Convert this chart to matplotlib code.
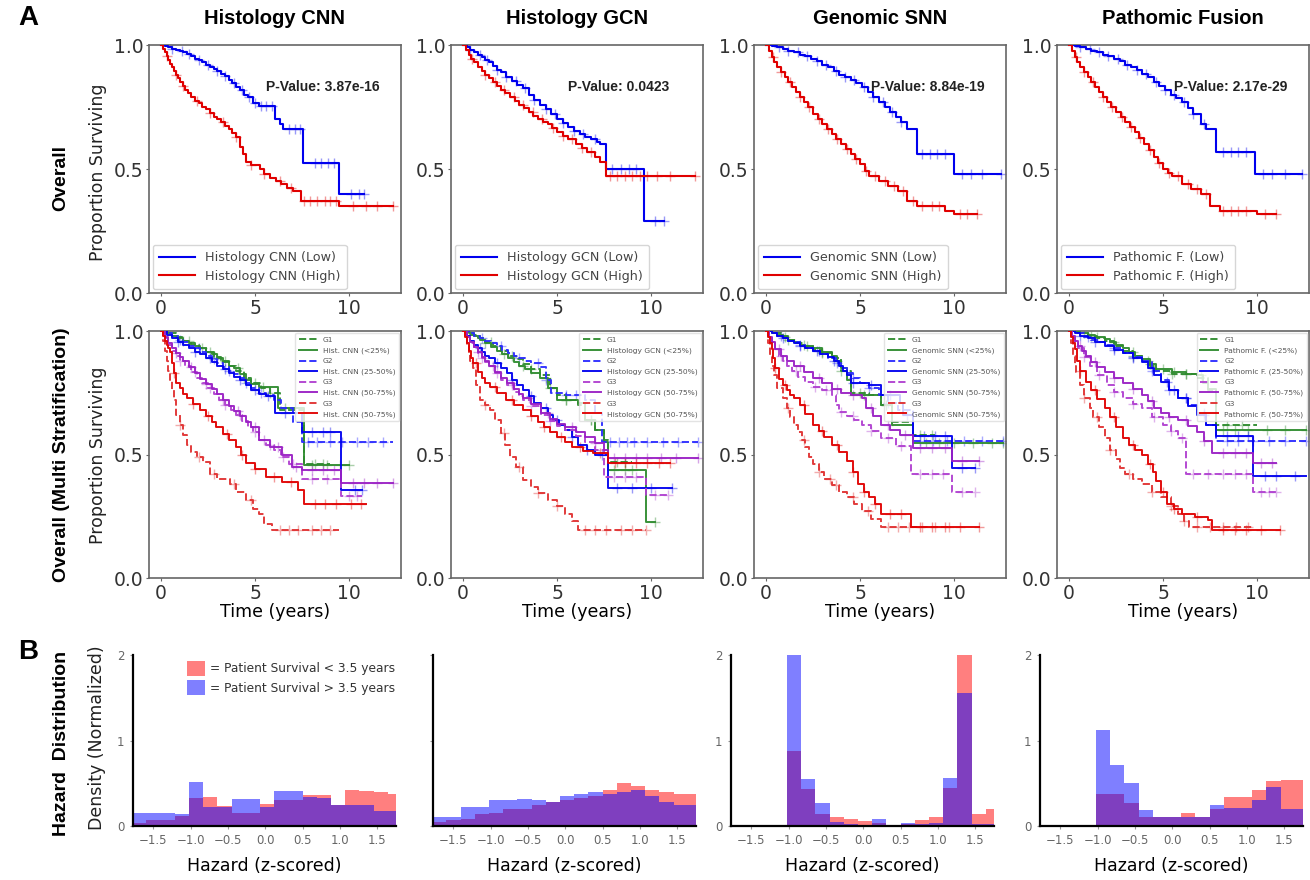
import numpy as np
import matplotlib
matplotlib.use("Agg")
import matplotlib.pyplot as plt
from matplotlib.patches import Patch

# ---------------- DATA ----------------
MODELS = ["Histology CNN", "Histology GCN", "Genomic SNN", "Pathomic Fusion"]
SHORT_TOP = ["Histology CNN", "Histology GCN", "Genomic SNN", "Pathomic F."]
SHORT_MID = ["Hist. CNN", "Histology GCN", "Genomic SNN", "Pathomic F."]
PVALUES = ["3.87e-16", "0.0423", "8.84e-19", "2.17e-29"]
MID_SUFFIX = ["G1", "(<25%)", "G2", "(25-50%)", "G3", "(50-75%)", "G3", "(50-75%)"]

# ---- Top row (Low / High): step points (time, survival) and censor times ----
CNN_LOW_T = [0, 0.2, 0.4, 0.6, 0.8, 1.0, 1.2, 1.4, 1.6, 1.8, 2.0, 2.2, 2.4, 2.6, 2.8, 3.0, 3.2, 3.4, 3.6, 3.8, 4.0, 4.2, 4.4, 4.6, 4.9, 5.2, 6.05, 6.3, 6.5, 7.57, 9.47, 10.8]
CNN_LOW_S = [1.0, 0.995, 0.99, 0.985, 0.98, 0.975, 0.97, 0.965, 0.955, 0.945, 0.94, 0.93, 0.92, 0.91, 0.905, 0.895, 0.885, 0.875, 0.86, 0.845, 0.83, 0.82, 0.80, 0.79, 0.765, 0.755, 0.70, 0.68, 0.66, 0.525, 0.40, 0.40]
CNN_LOW_C = [0.6, 1.1, 1.5, 2.0, 2.5, 3.0, 3.4, 3.9, 4.3, 4.7, 5.0, 5.3, 5.6, 5.9, 6.8, 7.1, 7.4, 8.2, 8.5, 8.9, 9.2, 10.1, 10.5, 10.8]
CNN_HIGH_T = [0, 0.1, 0.2, 0.3, 0.4, 0.5, 0.6, 0.7, 0.8, 0.9, 1.0, 1.15, 1.3, 1.45, 1.6, 1.8, 2.0, 2.2, 2.4, 2.6, 2.8, 3.0, 3.2, 3.4, 3.6, 3.8, 4.0, 4.18, 4.35, 4.53, 4.8, 5.24, 5.5, 5.8, 6.12, 6.4, 6.7, 7.0, 7.44, 9.47, 12.3]
CNN_HIGH_S = [1.0, 0.985, 0.97, 0.955, 0.94, 0.925, 0.91, 0.895, 0.88, 0.865, 0.85, 0.835, 0.82, 0.805, 0.79, 0.775, 0.765, 0.75, 0.74, 0.725, 0.71, 0.70, 0.69, 0.675, 0.66, 0.645, 0.63, 0.59, 0.56, 0.53, 0.515, 0.50, 0.48, 0.465, 0.45, 0.44, 0.425, 0.41, 0.37, 0.35, 0.35]
CNN_HIGH_C = [0.3, 0.8, 1.2, 1.9, 2.6, 3.3, 4.0, 4.8, 5.5, 6.3, 6.9, 7.6, 7.9, 8.3, 8.7, 9.0, 9.3, 10.2, 10.9, 11.5, 12.3]

GCN_LOW_T = [0, 0.2, 0.4, 0.6, 0.8, 1.0, 1.2, 1.4, 1.6, 1.8, 2.0, 2.3, 2.6, 2.9, 3.2, 3.5, 3.8, 4.1, 4.4, 4.7, 5.0, 5.3, 5.6, 5.9, 6.2, 6.5, 6.8, 7.1, 7.3, 7.6, 9.6, 10.7]
GCN_LOW_S = [1.0, 0.99, 0.98, 0.97, 0.96, 0.95, 0.94, 0.93, 0.915, 0.90, 0.89, 0.87, 0.855, 0.84, 0.825, 0.80, 0.78, 0.76, 0.74, 0.72, 0.70, 0.685, 0.67, 0.655, 0.64, 0.63, 0.62, 0.61, 0.60, 0.50, 0.29, 0.29]
GCN_LOW_C = [0.4, 0.9, 1.3, 1.8, 2.3, 2.8, 3.3, 3.8, 4.4, 4.9, 5.3, 5.9, 6.4, 7.0, 7.9, 8.4, 8.8, 9.2, 10.2, 10.7]
GCN_HIGH_T = [0, 0.15, 0.3, 0.45, 0.6, 0.8, 1.0, 1.2, 1.4, 1.6, 1.8, 2.0, 2.25, 2.5, 2.75, 3.0, 3.25, 3.5, 3.75, 4.0, 4.25, 4.5, 4.75, 5.0, 5.3, 5.6, 6.0, 6.3, 6.6, 7.0, 7.3, 7.6, 12.3]
GCN_HIGH_S = [1.0, 0.98, 0.96, 0.945, 0.93, 0.91, 0.895, 0.88, 0.865, 0.85, 0.835, 0.82, 0.805, 0.79, 0.775, 0.76, 0.745, 0.73, 0.715, 0.70, 0.69, 0.68, 0.665, 0.65, 0.635, 0.62, 0.60, 0.585, 0.57, 0.55, 0.53, 0.47, 0.47]
GCN_HIGH_C = [0.5, 1.2, 1.7, 2.2, 2.7, 3.2, 3.7, 4.2, 4.8, 5.3, 5.8, 6.3, 6.8, 7.8, 8.2, 8.6, 9.0, 9.4, 9.8, 10.3, 11.0, 12.3]

SNN_LOW_T = [0, 0.3, 0.6, 0.9, 1.2, 1.5, 1.8, 2.1, 2.4, 2.7, 3.0, 3.3, 3.6, 3.9, 4.2, 4.5, 4.8, 5.1, 5.4, 5.7, 6.0, 6.3, 6.6, 6.9, 7.2, 7.5, 8.0, 10.0, 12.5]
SNN_LOW_S = [1.0, 0.995, 0.99, 0.985, 0.975, 0.97, 0.96, 0.955, 0.945, 0.935, 0.92, 0.91, 0.895, 0.88, 0.87, 0.86, 0.845, 0.83, 0.81, 0.79, 0.77, 0.75, 0.73, 0.71, 0.69, 0.66, 0.56, 0.48, 0.48]
SNN_LOW_C = [0.7, 1.2, 1.7, 2.2, 2.7, 3.2, 3.7, 4.2, 4.7, 5.2, 5.7, 6.2, 6.7, 7.2, 8.3, 8.7, 9.1, 9.5, 10.4, 10.9, 11.5, 12.5]
SNN_HIGH_T = [0, 0.15, 0.3, 0.45, 0.6, 0.8, 1.0, 1.2, 1.4, 1.6, 1.8, 2.0, 2.25, 2.5, 2.75, 3.0, 3.25, 3.5, 3.75, 4.0, 4.25, 4.5, 4.75, 5.0, 5.25, 5.5, 6.0, 6.5, 7.0, 7.5, 8.0, 9.5, 10.0, 11.2]
SNN_HIGH_S = [1.0, 0.975, 0.95, 0.93, 0.91, 0.89, 0.87, 0.85, 0.83, 0.81, 0.79, 0.77, 0.75, 0.72, 0.70, 0.68, 0.66, 0.64, 0.62, 0.60, 0.58, 0.56, 0.54, 0.52, 0.49, 0.47, 0.45, 0.43, 0.41, 0.37, 0.35, 0.33, 0.32, 0.32]
SNN_HIGH_C = [0.4, 0.8, 1.3, 1.8, 2.3, 2.8, 3.3, 3.8, 4.3, 4.8, 5.3, 5.8, 6.3, 6.8, 7.3, 7.8, 8.3, 8.8, 9.2, 10.3, 10.7, 11.2]

PF_LOW_T = [0, 0.3, 0.6, 0.9, 1.2, 1.5, 1.8, 2.1, 2.4, 2.7, 3.0, 3.3, 3.6, 3.9, 4.2, 4.5, 4.8, 5.1, 5.4, 5.7, 6.0, 6.3, 6.6, 7.0, 7.3, 7.8, 9.9, 12.4]
PF_LOW_S = [1.0, 0.995, 0.99, 0.985, 0.975, 0.97, 0.96, 0.955, 0.945, 0.935, 0.92, 0.91, 0.90, 0.885, 0.87, 0.85, 0.835, 0.82, 0.80, 0.785, 0.77, 0.745, 0.72, 0.68, 0.66, 0.57, 0.48, 0.48]
PF_LOW_C = [0.6, 1.1, 1.6, 2.1, 2.6, 3.1, 3.6, 4.1, 4.6, 5.1, 5.6, 6.1, 6.6, 7.2, 8.2, 8.6, 9.0, 9.4, 10.3, 10.8, 11.5, 12.4]
PF_HIGH_T = [0, 0.15, 0.3, 0.45, 0.6, 0.8, 1.0, 1.2, 1.4, 1.6, 1.8, 2.0, 2.25, 2.5, 2.75, 3.0, 3.25, 3.5, 3.75, 4.0, 4.25, 4.5, 4.75, 5.0, 5.25, 5.5, 6.0, 6.5, 7.0, 7.5, 8.0, 10.0, 11.0]
PF_HIGH_S = [1.0, 0.975, 0.95, 0.93, 0.91, 0.89, 0.87, 0.85, 0.83, 0.81, 0.79, 0.77, 0.75, 0.73, 0.71, 0.69, 0.67, 0.65, 0.625, 0.60, 0.575, 0.55, 0.525, 0.50, 0.485, 0.47, 0.44, 0.42, 0.40, 0.35, 0.33, 0.32, 0.32]
PF_HIGH_C = [0.4, 0.8, 1.3, 1.8, 2.3, 2.8, 3.3, 3.8, 4.3, 4.8, 5.3, 5.8, 6.3, 6.8, 7.3, 8.2, 8.6, 9.0, 9.4, 10.4, 11.0]

# ---- Middle row: 8 curves per panel (G1, <25%, G2, 25-50%, G3, 50-75%, G3, 50-75%) as (time, survival) ----
CNN_G1 = [(0, 1.0), (0.4, 0.99), (0.8, 0.975), (1.2, 0.96), (1.6, 0.945), (2.0, 0.93), (2.4, 0.915), (2.8, 0.895), (3.2, 0.88), (3.6, 0.86), (4.0, 0.84), (4.4, 0.81), (4.8, 0.79), (5.3, 0.77), (5.8, 0.75), (6.3, 0.68), (7.6, 0.46), (9.0, 0.46)]
CNN_Q1 = [(0, 1.0), (0.3, 0.99), (0.6, 0.98), (0.9, 0.97), (1.2, 0.96), (1.5, 0.95), (1.8, 0.94), (2.1, 0.93), (2.4, 0.915), (2.7, 0.905), (3.0, 0.89), (3.3, 0.875), (3.6, 0.86), (3.9, 0.85), (4.2, 0.825), (4.5, 0.80), (4.8, 0.785), (5.2, 0.775), (6.2, 0.69), (7.6, 0.457), (10.0, 0.457)]
CNN_G2 = [(0, 1.0), (0.3, 0.99), (0.6, 0.98), (0.9, 0.965), (1.2, 0.955), (1.5, 0.94), (1.8, 0.93), (2.1, 0.915), (2.4, 0.90), (2.7, 0.885), (3.0, 0.87), (3.3, 0.855), (3.6, 0.84), (3.9, 0.825), (4.2, 0.81), (4.5, 0.79), (4.8, 0.77), (5.2, 0.75), (5.6, 0.74), (6.0, 0.72), (6.4, 0.69), (7.0, 0.63), (7.5, 0.552), (12.3, 0.552)]
CNN_Q2 = [(0, 1.0), (0.3, 0.985), (0.6, 0.97), (0.9, 0.955), (1.2, 0.945), (1.5, 0.93), (1.8, 0.915), (2.1, 0.905), (2.4, 0.89), (2.7, 0.875), (3.0, 0.86), (3.3, 0.845), (3.6, 0.83), (3.9, 0.815), (4.2, 0.80), (4.5, 0.78), (4.8, 0.76), (5.2, 0.745), (5.6, 0.735), (6.05, 0.67), (7.5, 0.592), (9.56, 0.356), (10.7, 0.356)]
CNN_G3 = [(0, 1.0), (0.2, 0.97), (0.4, 0.945), (0.6, 0.92), (0.8, 0.90), (1.0, 0.88), (1.3, 0.86), (1.6, 0.835), (1.9, 0.81), (2.2, 0.79), (2.5, 0.77), (2.8, 0.745), (3.1, 0.72), (3.4, 0.70), (3.7, 0.68), (4.0, 0.66), (4.3, 0.635), (4.6, 0.61), (4.9, 0.59), (5.2, 0.56), (5.6, 0.54), (6.0, 0.52), (6.4, 0.49), (6.8, 0.46), (7.5, 0.40), (9.56, 0.33), (10.7, 0.33)]
CNN_Q3 = [(0, 1.0), (0.2, 0.975), (0.4, 0.95), (0.6, 0.93), (0.8, 0.91), (1.0, 0.895), (1.2, 0.88), (1.5, 0.855), (1.8, 0.83), (2.1, 0.805), (2.4, 0.785), (2.7, 0.765), (3.0, 0.745), (3.3, 0.72), (3.6, 0.695), (3.9, 0.675), (4.2, 0.655), (4.5, 0.63), (4.8, 0.61), (5.23, 0.558), (5.8, 0.53), (6.45, 0.498), (6.98, 0.45), (7.5, 0.437), (9.56, 0.383), (12.3, 0.383)]
CNN_G4 = [(0, 1.0), (0.1, 0.96), (0.2, 0.92), (0.3, 0.88), (0.4, 0.84), (0.5, 0.80), (0.6, 0.76), (0.7, 0.72), (0.83, 0.66), (1.0, 0.62), (1.2, 0.58), (1.4, 0.54), (1.6, 0.51), (1.9, 0.49), (2.24, 0.47), (2.59, 0.42), (3.0, 0.40), (3.65, 0.38), (4.0, 0.35), (4.5, 0.316), (4.9, 0.28), (5.2, 0.26), (5.5, 0.22), (5.9, 0.194), (9.47, 0.194)]
CNN_Q4 = [(0, 1.0), (0.1, 0.98), (0.2, 0.96), (0.3, 0.945), (0.4, 0.93), (0.5, 0.915), (0.6, 0.87), (0.7, 0.83), (0.83, 0.79), (1.0, 0.77), (1.2, 0.745), (1.4, 0.73), (1.7, 0.705), (2.06, 0.68), (2.4, 0.655), (2.7, 0.63), (2.95, 0.61), (3.3, 0.585), (3.6, 0.56), (4.0, 0.53), (4.25, 0.50), (4.5, 0.464), (5.0, 0.44), (5.6, 0.41), (6.45, 0.39), (7.3, 0.356), (7.6, 0.30), (10.9, 0.30)]

GCN_G1 = [(0, 1.0), (0.4, 0.985), (0.8, 0.97), (1.2, 0.955), (1.6, 0.94), (2.0, 0.92), (2.4, 0.90), (2.8, 0.885), (3.2, 0.865), (3.6, 0.845), (4.1, 0.82), (4.6, 0.77), (5.0, 0.74), (5.5, 0.72), (6.1, 0.70), (6.5, 0.64), (7.0, 0.60), (7.5, 0.56), (7.7, 0.47), (9.0, 0.47)]
GCN_Q1 = [(0, 1.0), (0.3, 0.99), (0.6, 0.98), (0.9, 0.965), (1.2, 0.95), (1.5, 0.935), (1.8, 0.92), (2.1, 0.905), (2.4, 0.89), (2.7, 0.875), (3.0, 0.86), (3.3, 0.845), (3.6, 0.83), (4.1, 0.81), (4.5, 0.77), (5.0, 0.72), (6.1, 0.71), (6.5, 0.64), (7.0, 0.60), (7.5, 0.55), (7.7, 0.437), (9.7, 0.228), (10.2, 0.228)]
GCN_G2 = [(0, 1.0), (0.3, 0.99), (0.6, 0.98), (0.9, 0.97), (1.2, 0.96), (1.5, 0.95), (1.8, 0.94), (2.1, 0.925), (2.4, 0.91), (2.7, 0.90), (3.0, 0.89), (3.3, 0.88), (3.6, 0.87), (4.14, 0.855), (4.4, 0.80), (4.68, 0.748), (5.5, 0.74), (6.47, 0.72), (7.0, 0.67), (7.4, 0.552), (12.5, 0.552)]
GCN_Q2 = [(0, 1.0), (0.2, 0.98), (0.4, 0.96), (0.6, 0.945), (0.8, 0.93), (1.0, 0.915), (1.2, 0.90), (1.4, 0.89), (1.7, 0.87), (2.0, 0.85), (2.35, 0.83), (2.6, 0.80), (2.9, 0.78), (3.2, 0.76), (3.5, 0.735), (3.8, 0.71), (4.14, 0.69), (4.5, 0.66), (4.8, 0.64), (5.1, 0.62), (5.4, 0.60), (5.8, 0.57), (6.1, 0.54), (6.6, 0.52), (7.0, 0.50), (7.7, 0.363), (11.1, 0.363)]
GCN_G3 = [(0, 1.0), (0.2, 0.975), (0.4, 0.95), (0.6, 0.93), (0.8, 0.91), (1.0, 0.89), (1.2, 0.875), (1.4, 0.86), (1.7, 0.83), (2.0, 0.80), (2.35, 0.78), (2.7, 0.755), (3.0, 0.735), (3.2, 0.72), (3.6, 0.695), (4.14, 0.66), (4.6, 0.635), (5.0, 0.615), (5.4, 0.60), (6.0, 0.575), (6.5, 0.55), (7.0, 0.52), (7.5, 0.41), (9.7, 0.336), (10.95, 0.336)]
GCN_Q3 = [(0, 1.0), (0.2, 0.975), (0.4, 0.955), (0.6, 0.935), (0.8, 0.915), (1.0, 0.895), (1.2, 0.88), (1.4, 0.86), (1.7, 0.835), (2.0, 0.81), (2.35, 0.79), (2.7, 0.765), (3.0, 0.745), (3.2, 0.73), (3.6, 0.705), (4.14, 0.67), (4.6, 0.645), (5.0, 0.625), (5.4, 0.61), (6.0, 0.59), (6.5, 0.57), (7.0, 0.545), (7.5, 0.52), (7.7, 0.485), (12.5, 0.485)]
GCN_G4 = [(0, 1.0), (0.1, 0.97), (0.2, 0.94), (0.3, 0.91), (0.4, 0.88), (0.56, 0.85), (0.7, 0.78), (0.9, 0.72), (1.2, 0.70), (1.45, 0.68), (1.7, 0.64), (2.0, 0.586), (2.25, 0.54), (2.5, 0.49), (2.8, 0.45), (3.2, 0.397), (3.6, 0.37), (4.0, 0.345), (4.5, 0.316), (5.0, 0.29), (5.4, 0.26), (5.8, 0.23), (6.1, 0.194), (9.7, 0.194)]
GCN_Q4 = [(0, 1.0), (0.1, 0.975), (0.2, 0.95), (0.3, 0.92), (0.45, 0.89), (0.56, 0.87), (0.8, 0.835), (1.0, 0.81), (1.2, 0.79), (1.45, 0.775), (1.8, 0.75), (2.3, 0.72), (2.7, 0.70), (3.2, 0.68), (3.6, 0.655), (4.0, 0.63), (4.3, 0.61), (4.6, 0.59), (5.0, 0.57), (5.4, 0.55), (5.8, 0.53), (6.4, 0.515), (6.9, 0.505), (7.7, 0.465), (11.0, 0.465)]

SNN_G1 = [(0, 1.0), (0.4, 0.99), (0.8, 0.98), (1.2, 0.965), (1.6, 0.95), (2.0, 0.94), (2.5, 0.925), (3.0, 0.91), (3.5, 0.89), (4.0, 0.84), (4.5, 0.75), (5.5, 0.74), (6.1, 0.70), (6.7, 0.63), (7.8, 0.58), (9.0, 0.58)]
SNN_Q1 = [(0, 1.0), (0.3, 0.99), (0.6, 0.985), (0.9, 0.975), (1.2, 0.965), (1.5, 0.955), (1.8, 0.945), (2.1, 0.94), (2.5, 0.93), (3.0, 0.915), (3.5, 0.90), (3.8, 0.88), (4.0, 0.85), (4.3, 0.80), (4.5, 0.74), (6.1, 0.70), (6.7, 0.62), (7.8, 0.547), (12.6, 0.547)]
SNN_G2 = [(0, 1.0), (0.3, 0.99), (0.6, 0.98), (0.9, 0.97), (1.2, 0.96), (1.5, 0.955), (1.8, 0.945), (2.1, 0.93), (2.5, 0.92), (2.9, 0.905), (3.3, 0.89), (3.7, 0.87), (4.0, 0.85), (4.3, 0.83), (4.6, 0.81), (5.0, 0.79), (5.5, 0.77), (6.0, 0.74), (6.5, 0.71), (7.0, 0.68), (7.8, 0.555), (12.6, 0.555)]
SNN_Q2 = [(0, 1.0), (0.3, 0.99), (0.6, 0.98), (0.9, 0.97), (1.2, 0.96), (1.5, 0.953), (1.8, 0.94), (2.1, 0.93), (2.5, 0.92), (2.9, 0.905), (3.3, 0.895), (3.6, 0.88), (3.9, 0.86), (4.1, 0.84), (4.3, 0.82), (4.5, 0.79), (5.5, 0.78), (6.1, 0.74), (7.1, 0.71), (7.3, 0.66), (7.8, 0.573), (9.9, 0.447), (11.1, 0.447)]
SNN_G3 = [(0, 1.0), (0.15, 0.97), (0.3, 0.95), (0.5, 0.925), (0.7, 0.90), (0.9, 0.88), (1.1, 0.86), (1.4, 0.84), (1.7, 0.815), (2.1, 0.793), (2.5, 0.775), (3.0, 0.76), (3.5, 0.74), (3.7, 0.70), (3.9, 0.673), (4.3, 0.655), (4.7, 0.64), (5.1, 0.62), (5.6, 0.595), (6.1, 0.567), (6.9, 0.533), (7.7, 0.42), (9.9, 0.347), (11.1, 0.347)]
SNN_Q3 = [(0, 1.0), (0.15, 0.975), (0.3, 0.955), (0.5, 0.927), (0.8, 0.90), (1.1, 0.88), (1.5, 0.86), (2.0, 0.835), (2.5, 0.81), (3.0, 0.79), (3.5, 0.767), (4.0, 0.75), (4.5, 0.74), (5.1, 0.727), (5.3, 0.687), (5.7, 0.655), (6.1, 0.62), (6.6, 0.60), (7.1, 0.58), (7.8, 0.527), (9.9, 0.473), (11.3, 0.473)]
SNN_G4 = [(0, 1.0), (0.1, 0.95), (0.2, 0.90), (0.3, 0.86), (0.45, 0.82), (0.6, 0.77), (0.9, 0.727), (1.1, 0.69), (1.3, 0.65), (1.5, 0.62), (1.7, 0.593), (1.9, 0.56), (2.1, 0.53), (2.3, 0.49), (2.5, 0.46), (2.8, 0.43), (3.1, 0.40), (3.5, 0.375), (3.9, 0.35), (4.3, 0.327), (4.7, 0.30), (5.1, 0.273), (5.6, 0.24), (6.1, 0.207), (9.7, 0.207)]
SNN_Q4 = [(0, 1.0), (0.1, 0.975), (0.2, 0.95), (0.3, 0.927), (0.4, 0.89), (0.5, 0.85), (0.7, 0.807), (0.9, 0.78), (1.1, 0.76), (1.3, 0.74), (1.5, 0.727), (1.8, 0.70), (2.1, 0.665), (2.5, 0.62), (2.8, 0.595), (3.1, 0.57), (3.5, 0.54), (3.9, 0.51), (4.3, 0.473), (4.6, 0.43), (4.9, 0.38), (5.2, 0.35), (5.5, 0.327), (5.8, 0.30), (6.1, 0.26), (7.7, 0.207), (11.3, 0.207)]

PF_G1 = [(0, 1.0), (0.5, 0.99), (1.0, 0.98), (1.5, 0.97), (1.9, 0.96), (2.4, 0.94), (2.9, 0.92), (3.4, 0.90), (3.9, 0.88), (4.3, 0.86), (4.65, 0.84), (5.5, 0.825), (6.8, 0.81), (7.4, 0.76), (7.8, 0.62), (10.0, 0.62)]
PF_Q1 = [(0, 1.0), (0.3, 0.995), (0.6, 0.99), (1.0, 0.985), (1.4, 0.975), (1.9, 0.967), (2.2, 0.955), (2.5, 0.945), (2.9, 0.93), (3.2, 0.915), (3.5, 0.90), (3.9, 0.887), (4.3, 0.865), (4.65, 0.847), (5.5, 0.835), (6.2, 0.825), (6.8, 0.82), (7.1, 0.79), (7.4, 0.767), (7.8, 0.60), (12.6, 0.60)]
PF_G2 = [(0, 1.0), (0.4, 0.99), (0.8, 0.975), (1.2, 0.965), (1.6, 0.955), (1.9, 0.945), (2.4, 0.93), (2.9, 0.91), (3.4, 0.895), (3.9, 0.88), (4.4, 0.84), (4.9, 0.80), (5.3, 0.76), (5.8, 0.73), (6.3, 0.70), (6.8, 0.67), (7.3, 0.62), (7.8, 0.553), (12.6, 0.553)]
PF_Q2 = [(0, 1.0), (0.3, 0.99), (0.6, 0.98), (1.0, 0.97), (1.4, 0.955), (1.9, 0.94), (2.4, 0.925), (2.9, 0.91), (3.4, 0.89), (3.9, 0.873), (4.2, 0.85), (4.5, 0.82), (4.9, 0.793), (5.3, 0.76), (5.8, 0.727), (6.3, 0.695), (6.8, 0.66), (7.3, 0.62), (7.8, 0.573), (9.8, 0.413), (12.6, 0.413)]
PF_G3 = [(0, 1.0), (0.15, 0.97), (0.3, 0.95), (0.5, 0.93), (0.8, 0.895), (1.1, 0.86), (1.5, 0.82), (2.0, 0.78), (2.4, 0.755), (2.9, 0.727), (3.4, 0.705), (3.9, 0.687), (4.4, 0.65), (5.0, 0.62), (5.4, 0.595), (5.8, 0.567), (6.2, 0.42), (9.8, 0.347), (11.0, 0.347)]
PF_Q3 = [(0, 1.0), (0.15, 0.98), (0.3, 0.96), (0.5, 0.94), (0.7, 0.92), (0.9, 0.90), (1.2, 0.875), (1.5, 0.855), (1.9, 0.833), (2.4, 0.81), (2.9, 0.79), (3.4, 0.765), (3.9, 0.74), (4.2, 0.715), (4.5, 0.69), (4.9, 0.667), (5.3, 0.65), (5.8, 0.64), (6.3, 0.615), (6.8, 0.593), (7.2, 0.555), (7.6, 0.507), (9.8, 0.467), (11.0, 0.467)]
PF_G4 = [(0, 1.0), (0.1, 0.95), (0.2, 0.90), (0.3, 0.86), (0.4, 0.833), (0.6, 0.78), (0.8, 0.73), (1.1, 0.687), (1.3, 0.65), (1.6, 0.61), (1.9, 0.567), (2.2, 0.52), (2.5, 0.48), (2.7, 0.447), (3.0, 0.42), (3.4, 0.40), (3.9, 0.38), (4.4, 0.35), (4.9, 0.327), (5.4, 0.29), (5.8, 0.26), (6.1, 0.23), (6.4, 0.207), (9.8, 0.207)]
PF_Q4 = [(0, 1.0), (0.1, 0.975), (0.2, 0.95), (0.3, 0.927), (0.45, 0.88), (0.6, 0.84), (0.9, 0.793), (1.2, 0.76), (1.5, 0.725), (1.9, 0.687), (2.2, 0.65), (2.5, 0.61), (2.9, 0.567), (3.2, 0.54), (3.5, 0.52), (3.9, 0.50), (4.2, 0.46), (4.45, 0.43), (4.65, 0.393), (4.9, 0.35), (5.2, 0.30), (5.6, 0.28), (6.0, 0.26), (6.7, 0.245), (7.4, 0.233), (7.6, 0.193), (11.2, 0.193)]

# censor times for the middle-row curves (same order as above)
MID_CENS_CNN = [[1.5, 2.6, 3.4, 4.4, 5.0, 5.8, 8.2, 8.6],
                [1.2, 2.2, 3.0, 4.1, 5.4, 6.6, 8.0, 8.8, 9.5, 10.0],
                [1.0, 2.0, 2.8, 3.6, 4.5, 5.3, 7.8, 8.3, 9.0, 9.6, 10.4, 11.0, 11.8],
                [0.9, 1.8, 2.6, 3.4, 4.2, 5.0, 5.7, 6.6, 8.0, 8.6, 9.0, 10.3, 10.7],
                [1.0, 1.8, 2.6, 3.4, 4.2, 5.0, 5.8, 6.5, 7.0, 8.0, 8.8, 10.0, 10.4],
                [0.8, 1.6, 2.4, 3.3, 4.1, 5.0, 5.5, 6.2, 7.2, 8.0, 8.6, 9.2, 10.2, 10.8, 11.5, 12.3],
                [1.0, 2.0, 2.8, 3.9, 4.8, 6.3, 6.8, 7.3, 8.0, 8.5, 9.0],
                [0.7, 1.7, 2.5, 3.5, 4.3, 5.0, 6.0, 6.9, 8.2, 8.7, 9.3, 10.1, 10.6]]
MID_CENS_GCN = [[1.5, 2.6, 3.6, 4.6, 5.5, 6.8, 8.2, 8.6],
                [1.2, 2.2, 3.2, 4.4, 5.5, 6.8, 8.0, 8.6, 9.0, 10.2],
                [1.0, 2.0, 3.0, 4.0, 4.4, 5.5, 6.0, 7.8, 8.3, 8.7, 9.1, 9.8, 10.6, 11.4, 12.5],
                [0.9, 1.8, 2.6, 3.6, 4.4, 5.0, 5.8, 6.6, 7.4, 8.2, 9.0, 10.0, 11.1],
                [1.0, 1.8, 2.6, 3.6, 4.6, 5.8, 7.0, 8.0, 8.6, 9.2, 10.2, 10.9],
                [0.8, 1.6, 2.6, 3.5, 4.5, 5.8, 7.0, 8.0, 8.6, 9.2, 9.8, 10.5, 11.3, 12.5],
                [1.2, 2.2, 3.0, 4.0, 5.0, 6.5, 7.0, 7.6, 8.4, 9.0, 9.7],
                [0.7, 1.7, 2.6, 3.6, 4.3, 5.2, 6.2, 7.3, 8.1, 8.6, 9.2, 9.8, 10.4, 11.0]]
MID_CENS_SNN = [[1.2, 2.2, 3.0, 4.0, 5.0, 6.4, 8.2, 8.8],
                [1.0, 2.0, 3.0, 3.8, 5.2, 6.4, 8.5, 9.2, 10.0, 11.0, 12.0, 12.6],
                [0.8, 1.8, 2.8, 3.8, 4.6, 5.5, 6.5, 8.2, 8.9, 9.6, 10.5, 11.5, 12.6],
                [0.9, 1.8, 2.7, 3.6, 4.6, 5.6, 6.6, 7.5, 8.4, 9.0, 9.5, 10.4, 11.1],
                [0.8, 1.6, 2.6, 3.2, 4.0, 4.6, 5.6, 6.5, 7.2, 8.2, 8.8, 9.4, 10.4, 11.1],
                [0.7, 1.8, 2.8, 3.8, 4.6, 5.6, 6.5, 7.4, 8.2, 8.8, 9.5, 10.4, 11.3],
                [1.2, 2.0, 2.8, 3.4, 3.7, 4.6, 5.4, 6.5, 7.0, 7.6, 8.3, 9.0, 9.7],
                [0.5, 1.0, 2.0, 3.0, 3.8, 4.6, 5.2, 5.8, 6.6, 7.2, 8.2, 8.8, 9.5, 10.3, 11.3]]
MID_CENS_PF = [[1.2, 2.4, 3.4, 4.2, 5.5, 6.2, 8.4, 9.2],
               [0.8, 1.5, 2.4, 3.4, 4.3, 5.0, 5.6, 6.2, 7.0, 8.2, 8.8, 9.5, 10.5, 11.5, 12.6],
               [1.0, 2.4, 3.4, 4.4, 5.3, 6.2, 7.2, 8.4, 9.0, 9.8, 10.6, 11.5, 12.6],
               [0.6, 1.4, 2.4, 3.4, 4.4, 5.2, 5.6, 6.2, 7.2, 8.4, 9.0, 9.5, 10.4, 11.0, 12.0],
               [0.8, 1.6, 2.4, 3.4, 4.5, 5.4, 6.0, 6.6, 7.4, 8.2, 8.8, 9.4, 10.2, 10.6, 11.0],
               [0.6, 1.4, 2.4, 3.4, 4.4, 5.3, 6.2, 7.2, 8.2, 8.8, 9.4, 10.2, 10.8],
               [0.8, 1.5, 2.2, 3.2, 4.4, 5.4, 6.1, 6.8, 7.5, 8.2, 8.9, 9.5],
               [0.6, 1.4, 2.4, 3.4, 4.3, 5.0, 5.6, 6.8, 8.2, 8.8, 9.4, 10.2, 11.2]]

# ---- Hazard histograms (density per bin), 19 bins starting at -1.78, width 0.19 ----
HIST_BIN_START = -1.78
HIST_BIN_WIDTH = 0.19
CNN_HIST_SHORT = [0.04, 0.07, 0.07, 0.12, 0.33, 0.34, 0.23, 0.15, 0.15, 0.26, 0.30, 0.30, 0.36, 0.36, 0.25, 0.42, 0.41, 0.40, 0.38]
CNN_HIST_LONG = [0.15, 0.15, 0.15, 0.14, 0.51, 0.22, 0.22, 0.31, 0.31, 0.22, 0.41, 0.41, 0.34, 0.33, 0.25, 0.25, 0.25, 0.18, 0.18]
GCN_HIST_SHORT = [0.05, 0.07, 0.08, 0.14, 0.15, 0.20, 0.20, 0.25, 0.28, 0.30, 0.33, 0.35, 0.42, 0.50, 0.47, 0.42, 0.40, 0.38, 0.38]
GCN_HIST_LONG = [0.10, 0.10, 0.22, 0.22, 0.30, 0.30, 0.32, 0.30, 0.28, 0.35, 0.38, 0.40, 0.38, 0.40, 0.42, 0.35, 0.28, 0.25, 0.25]
SNN_HIST_SHORT = [0, 0, 0, 0, 0.88, 0.43, 0.14, 0.10, 0.08, 0.06, 0.03, 0.01, 0.02, 0.07, 0.11, 0.45, 2.0, 0.14, 0.20]
SNN_HIST_LONG = [0, 0, 0, 0, 2.0, 0.55, 0.27, 0.05, 0.02, 0.0, 0.08, 0.0, 0.04, 0.02, 0.04, 0.56, 1.55, 0.02, 0.02]
PF_HIST_SHORT = [0, 0, 0, 0, 0.37, 0.38, 0.27, 0.10, 0.10, 0.10, 0.15, 0.10, 0.20, 0.34, 0.34, 0.42, 0.53, 0.54, 0.54]
PF_HIST_LONG = [0, 0, 0, 0, 1.12, 0.71, 0.50, 0.19, 0.10, 0.10, 0.10, 0.10, 0.24, 0.21, 0.21, 0.30, 0.46, 0.20, 0.20]

# ---------------- LAYOUT ----------------
W, H = 1310, 880
fig = plt.figure(figsize=(W / 100, H / 100), dpi=100)
BOLD = "Liberation Sans"
plt.rcParams["font.family"] = "DejaVu Sans"


def add_px_axes(left, top, width, height):
    return fig.add_axes([left / W, 1 - (top + height) / H, width / W, height / H])


KM_LEFTS = [149, 451, 754, 1057]
KM_WIDTH = 252
HIST_LEFTS = [133, 433, 731, 1040]
HIST_WIDTH = 263

TOP_DATA = [
    (CNN_LOW_T, CNN_LOW_S, CNN_LOW_C, CNN_HIGH_T, CNN_HIGH_S, CNN_HIGH_C),
    (GCN_LOW_T, GCN_LOW_S, GCN_LOW_C, GCN_HIGH_T, GCN_HIGH_S, GCN_HIGH_C),
    (SNN_LOW_T, SNN_LOW_S, SNN_LOW_C, SNN_HIGH_T, SNN_HIGH_S, SNN_HIGH_C),
    (PF_LOW_T, PF_LOW_S, PF_LOW_C, PF_HIGH_T, PF_HIGH_S, PF_HIGH_C),
]
MID_DATA = [
    [CNN_G1, CNN_Q1, CNN_G2, CNN_Q2, CNN_G3, CNN_Q3, CNN_G4, CNN_Q4],
    [GCN_G1, GCN_Q1, GCN_G2, GCN_Q2, GCN_G3, GCN_Q3, GCN_G4, GCN_Q4],
    [SNN_G1, SNN_Q1, SNN_G2, SNN_Q2, SNN_G3, SNN_Q3, SNN_G4, SNN_Q4],
    [PF_G1, PF_Q1, PF_G2, PF_Q2, PF_G3, PF_Q3, PF_G4, PF_Q4],
]
MID_CENS = [MID_CENS_CNN, MID_CENS_GCN, MID_CENS_SNN, MID_CENS_PF]
HIST_DATA = [
    (CNN_HIST_SHORT, CNN_HIST_LONG),
    (GCN_HIST_SHORT, GCN_HIST_LONG),
    (SNN_HIST_SHORT, SNN_HIST_LONG),
    (PF_HIST_SHORT, PF_HIST_LONG),
]

MID_COLORS = ["#2e8b2e", "#2e8b2e", "#2b2bff", "#0000ee", "#b040d0", "#9a1fc4", "#e03030", "#e00000"]
MID_STYLES = ["--", "-", "--", "-", "--", "-", "--", "-"]

SPINE_GRAY = "#666666"
TICK_GRAY = "#333333"


def km_curve(ax, t, s, cens, color, ls="-", lw=1.5, alpha=1.0, label=None):
    t = np.asarray(t, float)
    s = np.asarray(s, float)
    ax.step(t, s, where="post", color=color, ls=ls, lw=lw, alpha=alpha, label=label, zorder=3)
    c = np.asarray(cens, float)
    idx = np.clip(np.searchsorted(t, c, side="right") - 1, 0, len(s) - 1)
    ax.plot(c, s[idx], ls="none", marker="+", ms=7, mew=1.0, color=color, alpha=0.4, zorder=2)


def style_km(ax):
    ax.set_xlim(-0.63, 12.75)
    ax.set_ylim(0, 1.0)
    ax.set_xticks([0, 5, 10])
    ax.set_yticks([0, 0.5, 1.0])
    ax.set_yticklabels(["0.0", "0.5", "1.0"])
    ax.tick_params(labelsize=13.5, labelcolor=TICK_GRAY, color=SPINE_GRAY, length=2, pad=2)
    for sp in ax.spines.values():
        sp.set_color(SPINE_GRAY)
        sp.set_linewidth(1.2)


for i in range(4):
    # ---- top row ----
    ax = add_px_axes(KM_LEFTS[i], 45, KM_WIDTH, 248)
    lt, ls_, lc, ht, hs, hc = TOP_DATA[i]
    km_curve(ax, lt, ls_, lc, "#0000ee", lw=1.5, label=f"{SHORT_TOP[i]} (Low)")
    km_curve(ax, ht, hs, hc, "#e00000", lw=1.5, label=f"{SHORT_TOP[i]} (High)")
    style_km(ax)
    ax.text(5.6, 0.83, f"P-Value: {PVALUES[i]}", fontsize=10, fontweight="bold",
            family=BOLD, color="#222222", va="center", ha="left")
    leg = ax.legend(loc="lower left", fontsize=9.2, handlelength=2.8, borderpad=0.5,
                    labelspacing=0.45, frameon=True, fancybox=True, borderaxespad=0.3)
    leg.get_frame().set_edgecolor("#cccccc")
    for txt in leg.get_texts():
        txt.set_color("#444444")
    fig.text((KM_LEFTS[i] + KM_WIDTH / 2) / W, 1 - 18 / H, MODELS[i], ha="center", va="center",
             fontsize=14.5, fontweight="bold", family=BOLD)

    # ---- middle row ----
    ax2 = add_px_axes(KM_LEFTS[i], 331, KM_WIDTH, 247)
    for j, curve in enumerate(MID_DATA[i]):
        tt = [p[0] for p in curve]
        ss = [p[1] for p in curve]
        lab = MID_SUFFIX[j] if j % 2 == 0 else f"{SHORT_MID[i]} {MID_SUFFIX[j]}"
        km_curve(ax2, tt, ss, MID_CENS[i][j], MID_COLORS[j], ls=MID_STYLES[j],
                 lw=1.4, alpha=0.95, label=lab)
    style_km(ax2)
    ax2.set_xlabel("Time (years)", fontsize=12.5, labelpad=0)
    leg2 = ax2.legend(loc="upper right", fontsize=5.4, handlelength=2.4, borderpad=0.5,
                      labelspacing=0.55, frameon=True, fancybox=True, borderaxespad=0.25)
    leg2.get_frame().set_edgecolor("#dddddd")
    for txt in leg2.get_texts():
        txt.set_color("#555555")

    # ---- histogram row ----
    ax3 = add_px_axes(HIST_LEFTS[i], 655, HIST_WIDTH, 171)
    short, long_ = HIST_DATA[i]
    n = len(short)
    lefts = HIST_BIN_START + HIST_BIN_WIDTH * np.arange(n)
    ax3.bar(lefts, short, width=HIST_BIN_WIDTH, align="edge", color="red", alpha=0.5, linewidth=0)
    ax3.bar(lefts, long_, width=HIST_BIN_WIDTH, align="edge", color="blue", alpha=0.5, linewidth=0)
    ax3.set_xlim(-1.77, 1.75)
    ax3.set_ylim(0, 2)
    ax3.set_xticks([-1.5, -1.0, -0.5, 0.0, 0.5, 1.0, 1.5])
    ax3.set_yticks([0, 1, 2])
    for side in ["top", "right"]:
        ax3.spines[side].set_visible(False)
    for side in ["left", "bottom"]:
        ax3.spines[side].set_color("black")
        ax3.spines[side].set_linewidth(1.6)
    ax3.tick_params(labelsize=8.5, labelcolor="#666666", color="#999999", length=2, pad=4)
    if i == 1:
        ax3.set_yticklabels([])
    ax3.set_xlabel("Hazard (z-scored)", fontsize=12.5, labelpad=7)
    if i == 0:
        handles = [Patch(facecolor="red", alpha=0.5, linewidth=0),
                   Patch(facecolor="blue", alpha=0.5, linewidth=0)]
        ax3.legend(handles, ["= Patient Survival < 3.5 years", "= Patient Survival > 3.5 years"],
                   loc="upper left", bbox_to_anchor=(176 / W, 1 - 650 / H),
                   bbox_transform=fig.transFigure, frameon=False, fontsize=8.8,
                   handlelength=1.5, handleheight=1.5, handletextpad=0.4, labelspacing=0.35,
                   labelcolor="#333333")

# ---- figure-level labels ----
fig.text(18 / W, 1 - 18 / H, "A", fontsize=20, fontweight="bold", family=BOLD, ha="left", va="center")
fig.text(18 / W, 1 - 652 / H, "B", fontsize=20, fontweight="bold", family=BOLD, ha="left", va="center")
fig.text(61 / W, 1 - 178 / H, "Overall", rotation=90, fontsize=14, fontweight="bold",
         family=BOLD, ha="center", va="center")
fig.text(61 / W, 1 - 455 / H, "Overall (Multi Stratification)", rotation=90, fontsize=14,
         fontweight="bold", family=BOLD, ha="center", va="center")
fig.text(61 / W, 1 - 743 / H, "Hazard  Distribution", rotation=90, fontsize=14,
         fontweight="bold", family=BOLD, ha="center", va="center")
fig.text(98 / W, 1 - 172 / H, "Proportion Surviving", rotation=90, fontsize=12.5,
         ha="center", va="center", color="#222222")
fig.text(98 / W, 1 - 455 / H, "Proportion Surviving", rotation=90, fontsize=12.5,
         ha="center", va="center", color="#222222")
fig.text(97 / W, 1 - 738 / H, "Density (Normalized)", rotation=90, fontsize=12.5,
         ha="center", va="center", color="#222222")

fig.savefig("out.png", dpi=100)
